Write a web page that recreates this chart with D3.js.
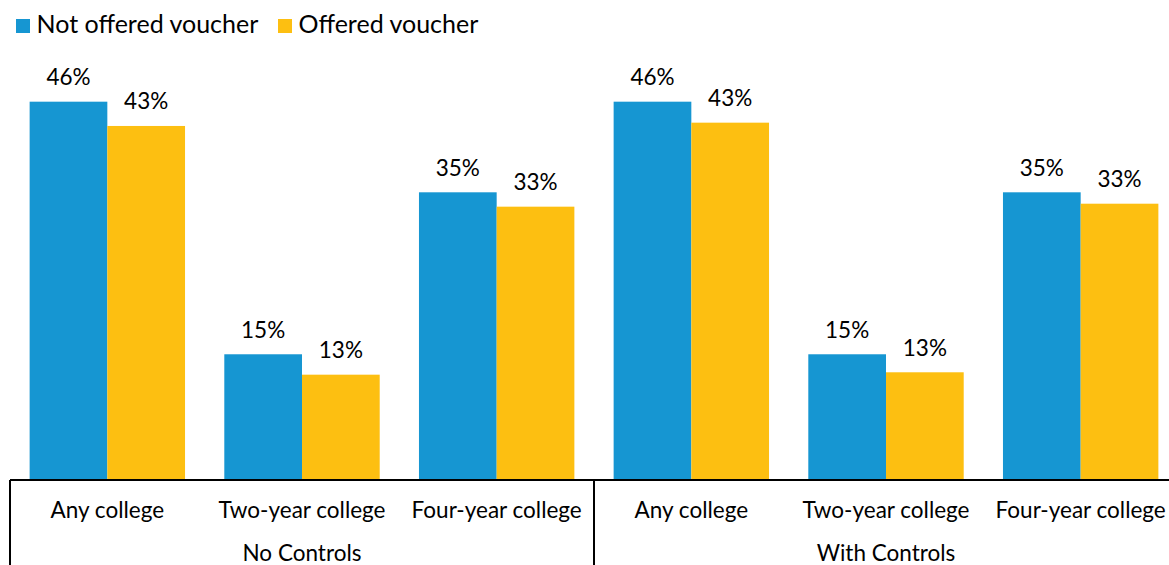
<!DOCTYPE html>
<html><head><meta charset="utf-8">
<script src="https://cdn.jsdelivr.net/npm/d3@7"></script>
<style>body{margin:0;background:#fff}svg{display:block;font-family:Lato,sans-serif}</style>
</head><body><svg id="c" width="1169" height="565"></svg>
<script>
const panels = ["No Controls", "With Controls"];
const categories = ["Any college", "Two-year college", "Four-year college"];
const seriesNames = ["Not offered voucher", "Offered voucher"];
const notOffered = [45.74, 15.16, 34.77, 45.74, 15.16, 34.77];
const offered = [42.80, 12.69, 33.03, 43.20, 12.98, 33.39];
const colors = ["#1696d2", "#fdbf11"];

const svg = d3.select("#c");
const keys = [];
panels.forEach(p => categories.forEach(c => keys.push(p + "|" + c)));
const rows = keys.map((k, i) => ({key: k, panel: k.split("|")[0], cat: k.split("|")[1], vals: [notOffered[i], offered[i]]}));

const x0 = d3.scaleBand().domain(keys).range([10, 1178]).paddingInner(0).paddingOuter(0);
const x1 = d3.scaleBand().domain([0, 1]).range([0, x0.bandwidth()]).paddingOuter(0.2527).paddingInner(0);
const y = d3.scaleLinear().domain([0, 50]).range([479.5, 479.5 - 413]);

const g = svg.append("g");
const grp = g.selectAll("g.grp").data(rows).join("g").attr("transform", d => `translate(${x0(d.key)},0)`);
grp.selectAll("rect").data(d => d.vals.map((v, i) => ({v, i}))).join("rect")
  .attr("x", d => x1(d.i)).attr("width", x1.bandwidth())
  .attr("y", d => y(d.v)).attr("height", d => y(0) - y(d.v))
  .attr("fill", d => colors[d.i]);
grp.selectAll("text").data(d => d.vals.map((v, i) => ({v, i}))).join("text")
  .attr("x", d => x1(d.i) + x1.bandwidth() / 2).attr("y", d => y(d.v) - 16.5)
  .attr("text-anchor", "middle").attr("font-size", 22.5).attr("fill", "#000")
  .text(d => Math.round(d.v) + "%");

// x axis: category labels
const xAxis = d3.axisBottom(x0).tickSize(0).tickFormat(k => k.split("|")[1]);
const ax = svg.append("g").attr("transform", "translate(0,480)").call(xAxis);
ax.select(".domain").remove();
ax.selectAll("text").attr("font-size", 22.5).attr("fill", "#000").attr("dy", null).attr("y", 37.5).attr("font-family", "Lato");

svg.append("line").attr("x1", 10).attr("x2", 1178).attr("y1", 480).attr("y2", 480).attr("stroke", "#000").attr("stroke-width", 2);
const panelEdges = [10, x0(keys[3]), 1178];
svg.selectAll("line.sep").data(panelEdges).join("line").attr("class", "sep")
  .attr("x1", d => d).attr("x2", d => d).attr("y1", 480).attr("y2", 565)
  .attr("stroke", "#000").attr("stroke-width", 2);
svg.selectAll("text.panel").data(panels).join("text").attr("class", "panel")
  .attr("x", (p, i) => (panelEdges[i] + panelEdges[i + 1]) / 2).attr("y", 561)
  .attr("text-anchor", "middle").attr("font-size", 22.5).attr("fill", "#000").text(p => p);

// legend
const legX = [16, 278];
const leg = svg.selectAll("g.leg").data(seriesNames).join("g").attr("class", "leg")
  .attr("transform", (d, i) => `translate(${legX[i]},0)`);
leg.append("rect").attr("x", 0).attr("y", 19).attr("width", 14).attr("height", 14).attr("fill", (d, i) => colors[i]);
leg.append("text").attr("x", 20.5).attr("y", 33.3).attr("font-size", 25).attr("fill", "#000").text(d => d);
</script></body></html>
